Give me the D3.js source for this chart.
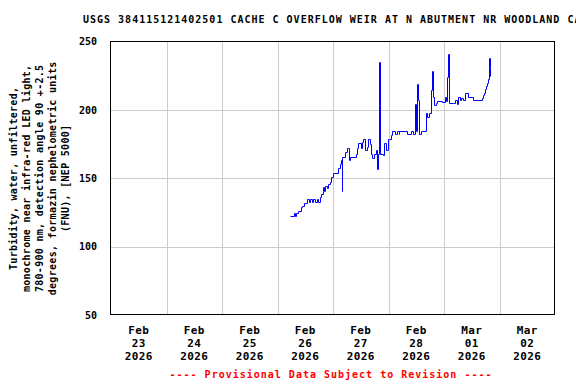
<!DOCTYPE html>
<html>
<head>
<meta charset="utf-8">
<script src="https://cdn.jsdelivr.net/npm/d3@7/dist/d3.min.js"></script>
<style>
body { margin: 0; background: #fff; }
svg text { font-family: "DejaVu Sans Mono", monospace; font-weight: bold; }
</style>
</head>
<body>
<svg id="chart"></svg>
<script>
let width = 576;
let height = 384;
let margin = {top: 41.7, right: 21, bottom: 69, left: 111};

let title = "USGS 384115121402501 CACHE C OVERFLOW WEIR AT N ABUTMENT NR WOODLAND CA";
let yTitle = [
    "Turbidity, water, unfiltered,",
    "monochrome near infra-red LED light,",
    "780-900 nm, detection angle 90 +-2.5",
    "degrees, formazin nephelometric units",
    "(FNU), [NEP 5000]"
];
let footer = "---- Provisional Data Subject to Revision ----";

let yTicks = [50, 100, 150, 200, 250];
let xDomain = ["2026-02-23T00:00", "2026-03-03T00:00"];
let dayTicks = ["2026-02-23", "2026-02-24", "2026-02-25", "2026-02-26",
                "2026-02-27", "2026-02-28", "2026-03-01", "2026-03-02"];

// turbidity readings
let times = [
    "2026-02-26T05:15", "2026-02-26T07:00", "2026-02-26T07:45", "2026-02-26T08:00",
    "2026-02-26T09:00", "2026-02-26T10:00", "2026-02-26T10:45", "2026-02-26T11:30",
    "2026-02-26T12:45", "2026-02-26T13:30", "2026-02-26T14:15", "2026-02-26T15:00",
    "2026-02-26T15:30", "2026-02-26T16:15", "2026-02-26T17:00", "2026-02-26T17:30",
    "2026-02-26T18:30", "2026-02-26T19:00", "2026-02-26T19:30", "2026-02-26T19:45",
    "2026-02-26T20:15", "2026-02-26T20:45", "2026-02-26T21:15", "2026-02-26T21:45",
    "2026-02-26T22:30", "2026-02-26T23:15", "2026-02-27T00:00", "2026-02-27T02:15",
    "2026-02-27T03:00", "2026-02-27T03:30", "2026-02-27T03:45", "2026-02-27T04:00",
    "2026-02-27T05:00", "2026-02-27T06:15", "2026-02-27T07:00", "2026-02-27T07:30",
    "2026-02-27T09:45", "2026-02-27T10:15", "2026-02-27T11:00", "2026-02-27T12:00",
    "2026-02-27T12:30", "2026-02-27T13:00", "2026-02-27T13:45", "2026-02-27T14:30",
    "2026-02-27T15:15", "2026-02-27T16:00", "2026-02-27T16:30", "2026-02-27T17:00",
    "2026-02-27T17:45", "2026-02-27T18:30", "2026-02-27T19:00", "2026-02-27T19:30",
    "2026-02-27T20:00", "2026-02-27T20:15", "2026-02-27T20:30", "2026-02-27T21:30",
    "2026-02-27T22:15", "2026-02-27T23:00", "2026-02-27T23:45", "2026-02-28T00:15",
    "2026-02-28T01:00", "2026-02-28T01:30", "2026-02-28T02:45", "2026-02-28T03:30",
    "2026-02-28T04:30", "2026-02-28T04:45", "2026-02-28T08:00", "2026-02-28T09:45",
    "2026-02-28T10:30", "2026-02-28T11:15", "2026-02-28T12:00", "2026-02-28T12:15",
    "2026-02-28T12:45", "2026-02-28T13:00", "2026-02-28T14:15", "2026-02-28T16:15",
    "2026-02-28T16:45", "2026-02-28T17:30", "2026-02-28T18:15", "2026-02-28T18:30",
    "2026-02-28T18:45", "2026-02-28T19:15", "2026-02-28T19:45", "2026-02-28T20:30",
    "2026-02-28T21:00", "2026-02-28T23:00", "2026-03-01T00:15", "2026-03-01T01:00",
    "2026-03-01T01:30", "2026-03-01T01:45", "2026-03-01T02:00", "2026-03-01T04:00",
    "2026-03-01T04:45", "2026-03-01T05:30", "2026-03-01T06:00", "2026-03-01T07:00",
    "2026-03-01T07:30", "2026-03-01T08:00", "2026-03-01T09:00", "2026-03-01T10:15",
    "2026-03-01T12:45", "2026-03-01T16:15", "2026-03-01T16:45", "2026-03-01T17:15",
    "2026-03-01T17:45", "2026-03-01T18:15", "2026-03-01T18:45", "2026-03-01T19:00",
    "2026-03-01T19:30", "2026-03-01T19:45", "2026-03-01T20:00"
];
let values = [
    122.4, 125.0, 122.4, 125.0,
    126.3, 128.8, 130.0, 132.2,
    135.0, 132.5, 135.0, 132.5,
    135.0, 132.5, 135.0, 132.5,
    136.0, 138.5, 140.9, 143.8,
    141.0, 144.5, 143.0, 146.0,
    147.5, 151.2, 153.7, 157.4,
    160.5, 163.4, 140.9, 165.8,
    169.5, 172.0, 163.4, 165.8,
    168.0, 172.0, 175.6, 172.0,
    176.8, 178.5, 170.7, 173.0,
    178.5, 175.0, 168.0, 164.6,
    168.0, 170.7, 156.6, 168.0,
    235.4, 203.7, 168.0, 167.0,
    176.0, 170.7, 178.5, 179.0,
    181.7, 184.9, 182.5, 184.9,
    182.5, 184.9, 182.2, 184.9,
    182.2, 204.4, 184.9, 219.0,
    207.0, 182.2, 184.9, 197.6,
    195.0, 197.6, 200.0, 214.6,
    228.5, 209.7, 204.0, 205.0,
    206.8, 206.0, 209.7, 206.5,
    224.0, 241.0, 205.0, 205.0,
    207.5, 204.5, 209.7, 207.5,
    209.0, 207.5, 212.7, 209.7,
    207.3, 209.0, 211.0, 212.5,
    215.1, 217.5, 220.0, 222.5,
    237.8, 231.7, 224.9
];

let parseTime = d3.timeParse("%Y-%m-%dT%H:%M");
let parseDay = d3.timeParse("%Y-%m-%d");

function draw_chart() {
    let data = times.map((t, i) => ({t: parseTime(t), v: values[i]}));

    let svg = d3.select("#chart")
        .attr("width", width)
        .attr("height", height);

    let x = d3.scaleTime()
        .domain(xDomain.map(parseTime))
        .range([margin.left, width - margin.right]);

    let y = d3.scaleLinear()
        .domain([50, 250])
        .range([height - margin.bottom, margin.top]);

    let px = v => Math.round(v) + 0.5;

    // grid
    let days = dayTicks.map(parseDay);
    svg.append("g")
        .selectAll("line")
        .data(days.slice(1))
        .join("line")
        .attr("x1", d => px(x(d))).attr("x2", d => px(x(d)))
        .attr("y1", y(250)).attr("y2", y(50))
        .attr("stroke", "#cccccc");

    svg.append("g")
        .selectAll("line")
        .data(yTicks.slice(1, -1))
        .join("line")
        .attr("x1", x.range()[0]).attr("x2", x.range()[1])
        .attr("y1", d => px(y(d))).attr("y2", d => px(y(d)))
        .attr("stroke", "#cccccc");

    // series
    let line = d3.line()
        .curve(d3.curveStepAfter)
        .x(d => px(x(d.t)))
        .y(d => px(y(d.v)));

    svg.append("path")
        .datum(data)
        .attr("fill", "none")
        .attr("stroke", "#0000ff")
        .attr("stroke-width", 1)
        .attr("d", line);

    // frame
    svg.append("rect")
        .attr("x", px(x.range()[0]) - 1)
        .attr("y", px(y(250)) - 1)
        .attr("width", Math.round(x.range()[1]) - Math.round(x.range()[0]))
        .attr("height", Math.round(y(50)) - Math.round(y(250)))
        .attr("fill", "none")
        .attr("stroke", "#000");

    // y labels
    svg.append("g")
        .selectAll("text")
        .data(yTicks)
        .join("text")
        .attr("x", 97)
        .attr("y", d => y(d) + 3.5)
        .attr("text-anchor", "end")
        .attr("font-size", 10)
        .text(d => d);

    // x labels
    let fmt = [d3.timeFormat("%b"), d3.timeFormat("%d"), d3.timeFormat("%Y")];
    let xl = svg.append("g")
        .selectAll("text")
        .data(days)
        .join("text")
        .attr("text-anchor", "middle")
        .attr("font-size", 11)
        .attr("letter-spacing", 0.4);
    fmt.forEach((f, i) => {
        xl.append("tspan")
            .attr("x", d => x(d3.timeHour.offset(d, 12)))
            .attr("y", 334 + i * 13)
            .text(d => f(d));
    });

    // y title
    let yt = svg.append("text")
        .attr("transform", `translate(0,${(y(50) + y(250)) / 2}) rotate(-90)`)
        .attr("text-anchor", "middle")
        .attr("font-size", 10)
        .attr("letter-spacing", 0.3);
    yTitle.forEach((s, i) => {
        yt.append("tspan")
            .attr("x", 0)
            .attr("y", 17 + i * 13)
            .text(s);
    });

    // title
    svg.append("text")
        .attr("x", 83)
        .attr("y", 23)
        .attr("font-size", 10)
        .attr("letter-spacing", 1)
        .text(title);

    svg.append("text")
        .attr("x", 331)
        .attr("y", 378)
        .attr("text-anchor", "middle")
        .attr("font-size", 10)
        .attr("letter-spacing", 1)
        .attr("fill", "#ff0000")
        .text(footer);
}

draw_chart();
</script>
</body>
</html>
